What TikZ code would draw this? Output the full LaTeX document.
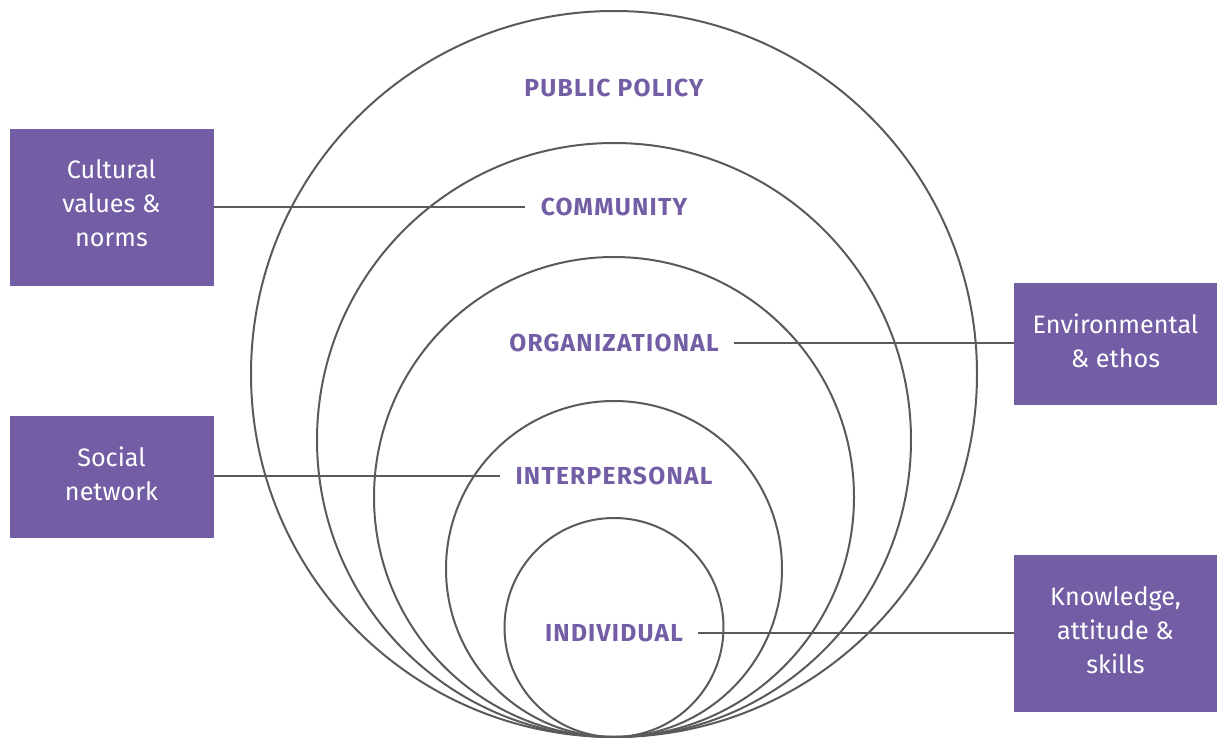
\documentclass[tikz,border=0pt]{standalone}
\usepackage{fontspec}
\setmainfont{Fira Sans}
\newfontfamily\labelfont[LetterSpace=5]{Fira Sans Bold}
\definecolor{plum}{HTML}{735EA5}
\definecolor{ring}{HTML}{5A5A5A}
\begin{document}
\begin{tikzpicture}[x=0.5pt,y=-0.5pt,
  ringline/.style={draw=ring,line width=1pt},
  level/.style={font=\labelfont\fontsize{12.3}{14}\selectfont,text=plum,inner xsep=7.5pt,inner ysep=2pt},
  factor/.style={fill=plum,text=white,minimum width=102pt,align=center,
    font=\fontsize{12.6}{17}\selectfont,inner sep=0pt},
  ftext/.style={text=white,align=center,font=\fontsize{12.6}{17}\selectfont,inner sep=0pt},
  link/.style={draw=ring,line width=1pt}]
\useasboundingbox (0,0) rectangle (1217,738);
% nested circles, all touching at the bottom point
\foreach \r in {363,297,240,168,109.5}
  \draw[ringline] (614,737-\r) circle[radius=\r];
% level labels
\node[level] (pol) at (614,88) {PUBLIC POLICY};
\node[level] (com) at (614,207) {COMMUNITY};
\node[level] (org) at (614,343) {ORGANIZATIONAL};
\node[level] (int) at (614,476) {INTERPERSONAL};
\node[level] (ind) at (614,633) {INDIVIDUAL};
% factor boxes
\node[factor,minimum height=78.5pt] (cul) at (111.5,207.5) {};
\node[factor,minimum height=61pt] (soc) at (111.5,477) {};
\node[factor,minimum width=101.5pt,minimum height=61pt] (env) at (1115.5,344) {};
\node[factor,minimum width=101.5pt,minimum height=78.5pt] (kno) at (1115.5,633.5) {};
\node[ftext] (culT) at ([yshift=2pt]cul.center) {Cultural\\values \&\\norms};
\node[ftext] (socT) at ([yshift=1.5pt]soc.center) {Social\\network};
\node[ftext] (envT) at ([yshift=1.5pt]env.center) {Environmental\\\& ethos};
\node[ftext] (knoT) at ([yshift=1.5pt]kno.center) {Knowledge,\\attitude \&\\skills};
% connectors
\draw[link] (cul.east |- com.west) -- (com.west);
\draw[link] (org.east) -- (env.west |- org.east);
\draw[link] (soc.east |- int.west) -- (int.west);
\draw[link] (ind.east) -- (kno.west |- ind.east);
\end{tikzpicture}
\end{document}
